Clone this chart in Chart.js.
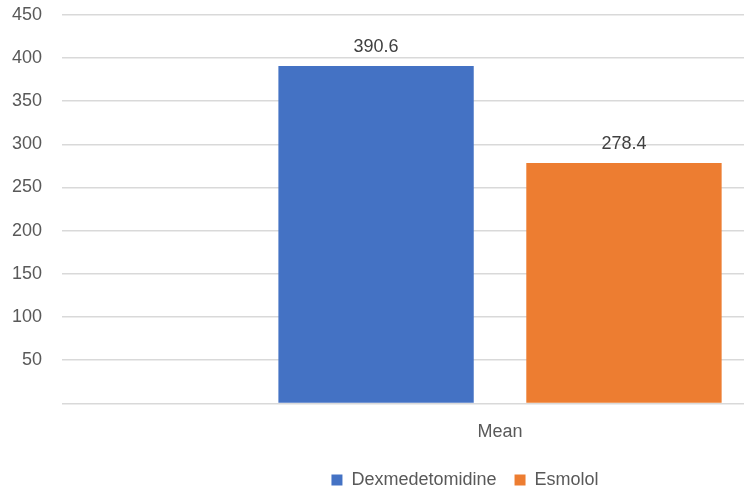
<!DOCTYPE html>
<html lang="en">
<head>
    <meta charset="UTF-8">
    <title>Mean - Dexmedetomidine vs Esmolol</title>
    <script src="https://cdn.jsdelivr.net/npm/chart.js"></script>
    <style>
        html, body {
            margin: 0;
            padding: 0;
            background: #fff;
            overflow: hidden;
        }
        /* original chart was wider than the picture, right part is cut off */
        #chart-container {
            position: relative;
            top: -16px;
            left: -20px;
            width: 980px;
            height: 517px;
        }
    </style>
</head>
<body>
    <div id="chart-container">
        <canvas id="meanChart"></canvas>
    </div>

    <script>
        // data
        var categories = ['Mean'];
        var seriesNames = ['Dexmedetomidine', 'Esmolol'];
        var dexValues = [390.6];
        var esmololValues = [278.4];
        var yTicks = [0, 50, 100, 150, 200, 250, 300, 350, 400, 450];

        var textColor = '#595959';
        var fontFace = '"Liberation Sans", Arial, sans-serif';

        // value labels above the bars
        var barLabels = {
            id: 'barLabels',
            afterDatasetsDraw: function (chart) {
                var ctx = chart.ctx;
                ctx.save();
                ctx.font = '18px ' + fontFace;
                ctx.fillStyle = '#404040';
                ctx.textAlign = 'center';
                ctx.textBaseline = 'bottom';
                chart.data.datasets.forEach(function (ds, i) {
                    chart.getDatasetMeta(i).data.forEach(function (bar, j) {
                        ctx.fillText(ds.data[j].toFixed(1), bar.x, bar.y - 10);
                    });
                });
                ctx.restore();
            }
        };

        var ctx = document.getElementById('meanChart').getContext('2d');
        var meanChart = new Chart(ctx, {
            type: 'bar',
            data: {
                labels: categories,
                datasets: [
                    {
                        label: seriesNames[0],
                        backgroundColor: '#4472C4',
                        data: dexValues
                    },
                    {
                        label: seriesNames[1],
                        backgroundColor: '#ED7D31',
                        data: esmololValues
                    }
                ]
            },
            options: {
                responsive: true,
                maintainAspectRatio: false,
                animation: false,
                layout: {
                    padding: { top: 6, left: 12, right: 22, bottom: 2 }
                },
                datasets: {
                    bar: {
                        categoryPercentage: 0.566,
                        barPercentage: 0.788
                    }
                },
                plugins: {
                    legend: {
                        position: 'bottom',
                        labels: {
                            color: textColor,
                            font: { family: fontFace, size: 18 },
                            boxWidth: 11,
                            boxHeight: 11,
                            padding: 18
                        }
                    },
                    tooltip: { enabled: false }
                },
                scales: {
                    x: {
                        grid: { display: false },
                        border: { display: false },
                        ticks: {
                            color: textColor,
                            font: { family: fontFace, size: 18 },
                            padding: 10
                        }
                    },
                    y: {
                        min: 0,
                        max: 450,
                        afterBuildTicks: function (axis) {
                            axis.ticks = yTicks.map(function (v) { return { value: v }; });
                        },
                        grid: {
                            color: '#d9d9d9',
                            lineWidth: 1.5,
                            drawTicks: false
                        },
                        border: { display: false },
                        ticks: {
                            color: textColor,
                            font: { family: fontFace, size: 18 },
                            padding: 20,
                            callback: function (v) { return v === 0 ? '' : v; }
                        }
                    }
                }
            },
            plugins: [barLabels]
        });
    </script>
</body>
</html>
